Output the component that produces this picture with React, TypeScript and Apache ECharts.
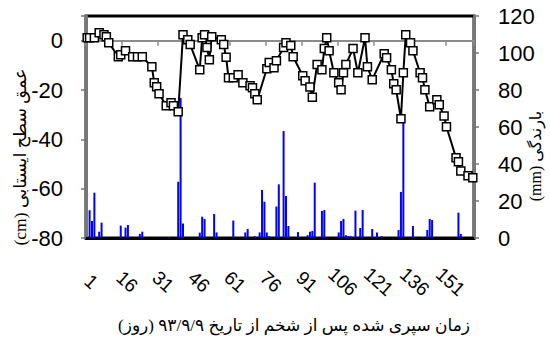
import React, { useEffect, useRef } from 'react';
import * as echarts from 'echarts';

// Day categories (days after ploughing)
const dayCount = 162;
const days: string[] = Array.from({ length: dayCount }, (_, i) => String(i + 1));

// Rainfall (mm), right axis
const rainDays = [2, 3, 4, 6, 7, 15, 17, 18, 23, 24, 35, 39, 40, 41, 48, 49, 50, 54, 55, 62, 67, 68, 71, 73, 74, 75, 76, 77, 80, 81, 83, 84, 85, 89, 93, 94, 95, 96, 99, 100, 106, 107, 108, 109, 110, 111, 113, 115, 116, 120, 122, 124, 131, 132, 133, 137, 141, 143, 144, 145, 156, 157];
const rainMm = [15, 9.2, 24.5, 3.4, 8.3, 6.7, 5.6, 7.0, 2.2, 3.4, 0.5, 30.4, 75.7, 7.9, 2.9, 11.5, 10.3, 13.0, 3.0, 9.4, 3.0, 4.9, 1.0, 3.0, 26, 19.6, 3.0, 1.0, 17, 29, 57.8, 22.7, 6.5, 3.2, 1.5, 3.4, 3.8, 29.9, 14.6, 15.1, 3.0, 9.2, 10.3, 1.5, 1, 1, 14.8, 5.4, 15.1, 4.9, 3.0, 1.0, 4.3, 24.9, 62.2, 6.5, 0.5, 4.3, 10.3, 9.7, 13.7, 2.2];

// Water table depth (cm), left axis
const wtDays = [1, 2, 4, 6, 8, 9, 10, 14, 15, 17, 20, 22, 24, 28, 29, 30, 31, 34, 36, 37, 39, 41, 43, 44, 48, 49, 50, 51, 52, 53, 57, 58, 59, 60, 62, 64, 66, 69, 70, 71, 72, 76, 77, 79, 80, 83, 84, 86, 87, 91, 92, 94, 95, 97, 99, 100, 101, 102, 104, 106, 107, 108, 109, 112, 114, 117, 118, 120, 125, 126, 128, 129, 130, 132, 133, 134, 136, 137, 140, 141, 142, 144, 147, 148, 150, 151, 155, 156, 157, 160, 162];
const wtCm = [1.2, 1.2, 1.2, 3.2, 2.4, 1.6, -0.8, -6.5, -5.7, -4.1, -6.5, -6.5, -6.5, -10.6, -17.1, -18.7, -21.5, -26.4, -25.2, -26.4, -28.8, 2.4, 0.4, -1.6, -11.8, 1.2, 2.4, -2.8, -7.7, 1.6, 0.4, -1.6, -6.7, -15.0, -15.0, -13.8, -17.1, -18.3, -19.1, -21.5, -24.0, -11.4, -8.9, -11.0, -8.1, -2.8, -0.8, -2.0, -6.5, -14.2, -16.2, -18.8, -22.9, -9.7, -11.8, -3.2, 1.2, -4.1, -13.0, -17.1, -19.9, -13.0, -9.7, -3.2, -13.0, 1.2, -10.6, -15.8, -5.3, -6.9, -11.8, -17.5, -19.9, -31.7, -13.0, 2.4, -0.8, -4.1, -13.0, -15.0, -19.9, -26.8, -24.0, -26.0, -30.5, -34.9, -47.5, -49.1, -52.8, -54.8, -55.6];

const leftName = 'عمق سطح ایستابی (cm)';
const rightName = 'بارندگی (mm)';
const xName = 'زمان سپری شده پس از شخم از تاریخ ۹۳/۹/۹ (روز)';

const RLE = '\u202B';
const PDF = '\u202C';

export default function App() {
  const ref = useRef<HTMLDivElement>(null);
  useEffect(() => {
    const chart = echarts.init(ref.current!, undefined, { renderer: 'svg' });
    const rain: (number | null)[] = days.map(() => null);
    rainDays.forEach((d, i) => { rain[d - 1] = rainMm[i]; });
    const wt: (number | null)[] = days.map(() => null);
    wtDays.forEach((d, i) => { wt[d - 1] = wtCm[i]; });
    const numFont = 'Liberation Sans, Arial, sans-serif';
    const nameFont = 'Liberation Serif, DejaVu Sans, serif';
    chart.setOption({
      animation: false,
      backgroundColor: '#fff',
      grid: { left: 86, right: 76, top: 16, bottom: 103, show: true, borderColor: '#000', borderWidth: 3 },
      xAxis: [
        {
          type: 'category', data: days, position: 'bottom', boundaryGap: true,
          axisLine: { onZero: false, lineStyle: { color: '#000', width: 3 } },
          axisTick: { show: false },
          axisLabel: {
            interval: 14, rotate: -42, margin: 40, fontSize: 19, color: '#000', fontFamily: numFont,
            align: 'center', verticalAlign: 'middle', padding: [0, 0, 0, 11],
          },
          splitLine: { show: false },
        },
        {
          type: 'category', data: days, position: 'bottom', boundaryGap: true,
          axisLine: { onZero: true, onZeroAxisIndex: 0, lineStyle: { color: '#8c8c8c', width: 2 } },
          axisTick: { show: true, interval: 14, length: 5, lineStyle: { color: '#8c8c8c', width: 1.5 } },
          axisLabel: { show: false },
          splitLine: { show: false },
        },
      ],
      yAxis: [
        {
          type: 'value', min: -80, max: 10, interval: 20, position: 'left',
          axisLine: { show: true, onZero: false, lineStyle: { color: '#777', width: 3 } },
          axisTick: { show: true, length: 5, lineStyle: { color: '#777', width: 1.5 } },
          axisLabel: { fontSize: 22, color: '#000', margin: 23, fontFamily: numFont, formatter: (v: number) => (v > 0 ? '' : String(v)) },
          splitLine: { show: false },
        },
        {
          type: 'value', min: 0, max: 120, interval: 20, position: 'right',
          axisLine: { show: true, onZero: false, lineStyle: { color: '#777', width: 3 } },
          axisTick: { show: true, length: 5, lineStyle: { color: '#777', width: 1.5 } },
          axisLabel: { fontSize: 22, color: '#000', margin: 24, fontFamily: numFont },
          splitLine: { show: false },
        },
      ],
      series: [
        {
          type: 'bar', name: 'rain', xAxisIndex: 0, yAxisIndex: 1, data: rain,
          barWidth: 2, itemStyle: { color: '#0000ff' }, z: 1,
        },
        {
          type: 'line', name: 'wt', xAxisIndex: 0, yAxisIndex: 0, data: wt, connectNulls: true,
          symbol: 'rect', symbolSize: 8, showAllSymbol: true,
          itemStyle: { color: '#fff', borderColor: '#000', borderWidth: 1.5 },
          lineStyle: { color: '#000', width: 2 }, z: 3,
        },
      ],
      graphic: [
        {
          type: 'text', x: 20, y: 157, rotation: Math.PI / 2,
          style: { text: RLE + leftName + PDF, fontSize: 17.5, fontFamily: nameFont, fill: '#000', align: 'center', verticalAlign: 'middle' },
        },
        {
          type: 'text', x: 535, y: 156, rotation: Math.PI / 2,
          style: { text: RLE + rightName + PDF, fontSize: 16, fontFamily: nameFont, fill: '#000', align: 'center', verticalAlign: 'middle' },
        },
        {
          type: 'text', x: 294, y: 325,
          style: { text: RLE + xName + PDF, fontSize: 17, fontFamily: nameFont, fill: '#000', align: 'center', verticalAlign: 'middle' },
        },
      ],
    });
    return () => chart.dispose();
  }, []);
  return <div ref={ref} style={{ width: 550, height: 341, position: 'absolute', left: 0, top: 0 }} />;
}
